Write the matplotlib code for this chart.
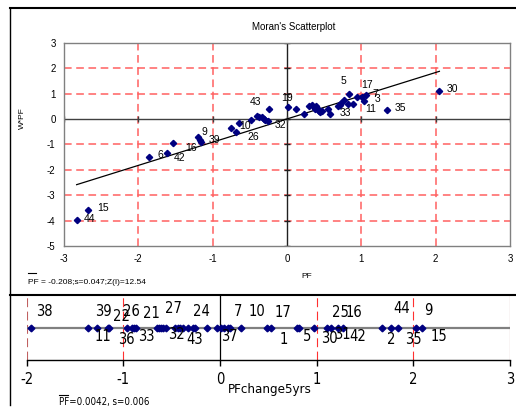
import os
import matplotlib
matplotlib.use('Agg')
import matplotlib.pyplot as plt
from matplotlib.lines import Line2D
from matplotlib import font_manager as fm

# ---------------- data: Moran's scatterplot (top) ----------------
pf = [-2.83, -2.68, -1.85, -1.62, -1.54, -1.20, -1.17, -1.16, -0.76, -0.68,
      -0.65, -0.49, -0.40, -0.37, -0.34, -0.31, -0.29, -0.26, -0.24, 0.02,
      0.12, 0.23, 0.30, 0.33, 0.37, 0.39, 0.40, 0.43, 0.45, 0.47,
      0.55, 0.58, 0.69, 0.71, 0.73, 0.77, 0.82, 0.84, 0.89, 0.94,
      1.01, 1.03, 1.06, 1.35, 2.05]
wpf = [-3.99, -3.57, -1.50, -1.34, -0.94, -0.73, -0.84, -0.91, -0.35, -0.52,
       -0.15, -0.05, 0.12, 0.09, 0.06, 0.00, -0.05, -0.10, 0.41, 0.46,
       0.41, 0.19, 0.52, 0.56, 0.39, 0.50, 0.42, 0.33, 0.28, 0.30,
       0.40, 0.19, 0.52, 0.55, 0.61, 0.76, 0.57, 0.99, 0.58, 0.85,
       0.87, 0.71, 0.95, 0.36, 1.10]
moran_slope = 0.914

top_labels = ["30", "35", "5", "17", "7", "3", "11", "33", "32", "19",
              "43", "10", "26", "9", "39", "16", "6", "42", "15", "44"]
top_lbl_x = [2.23, 1.53, 0.76, 1.07, 1.19, 1.22, 1.12, 0.78, -0.09, 0.0,
             -0.42, -0.57, -0.46, -1.11, -0.97, -1.29, -1.70, -1.44, -2.48, -2.66]
top_lbl_y = [1.17, 0.45, 1.48, 1.33, 0.99, 0.80, 0.41, 0.24, -0.22, 0.84,
             0.66, -0.29, -0.72, -0.51, -0.81, -1.14, -1.43, -1.52, -3.50, -3.94]

top_xticks = [-3, -2, -1, 0, 1, 2, 3]
top_yticks = [-5, -4, -3, -2, -1, 0, 1, 2, 3]
top_stats = "PF = -0.208;s=0.047;Z(I)=12.54"

# ---------------- data: PF change dot plot (bottom) ----------------
chg = [-1.955, -1.362, -1.276, -1.162, -1.145, -0.959, -0.914, -0.889, -0.869, -0.655,
       -0.631, -0.610, -0.586, -0.562, -0.465, -0.438, -0.414, -0.386, -0.334, -0.283,
       -0.259, -0.138, -0.028, 0.007, 0.041, 0.086, 0.103, 0.217, 0.489, 0.524,
       0.793, 0.820, 0.972, 1.110, 1.148, 1.223, 1.269, 1.672, 1.768, 1.838,
       2.024, 2.086]
bot_labels = ["38", "39", "22", "26", "21", "27", "24", "7", "10", "17",
              "25", "16", "44", "9",
              "11", "36", "33", "32", "43", "37", "1", "5", "30", "31",
              "42", "2", "35", "15"]
bot_lbl_x = [-1.817, -1.207, -1.017, -0.913, -0.706, -0.483, -0.189, 0.183, 0.379, 0.655,
             1.241, 1.386, 1.879, 2.154,
             -1.207, -0.965, -0.758, -0.455, -0.265, 0.096, 0.655, 0.903, 1.130, 1.269,
             1.430, 1.776, 1.999, 2.268]
bot_lbl_y = [0.743, 0.743, 0.666, 0.743, 0.718, 0.785, 0.743, 0.743, 0.743, 0.734,
             0.738, 0.738, 0.795, 0.758,
             0.358, 0.308, 0.358, 0.385, 0.308, 0.358, 0.318, 0.358, 0.333, 0.385,
             0.358, 0.318, 0.308, 0.358]
bot_xticks = [-2, -1, 0, 1, 2, 3]
bot_stats = "PF=0.0042, s=0.006"
bot_xlabel = "PFchange5yrs"

# ---------------- styling ----------------
W, H = 516, 416
plt.rcParams['font.family'] = ['Liberation Sans', 'DejaVu Sans']
plt.rcParams['axes.unicode_minus'] = False
navy = '#000080'

# pick a condensed face for the bottom panel if one is installed
_prefs = ['liberationsansnarrow-regular', 'dejavusanscondensed.', 'notosans-condensed.',
          'opensans_condensed-regular', 'opensans-condensed', 'notosans-semicondensed.',
          'dejavusans-condensed.']
_files = {os.path.basename(f.fname).lower(): f.fname for f in fm.fontManager.ttflist}
narrow_fp = None
for p in _prefs:
    hits = [v for k, v in _files.items() if k.startswith(p)]
    if hits:
        narrow_fp = fm.FontProperties(fname=hits[0])
        break
if narrow_fp is None:
    narrow_fp = fm.FontProperties(family='Liberation Sans')
    nscale = 0.8
else:
    nscale = 1.0


def nfp(size):
    f = narrow_fp.copy()
    f.set_size(size * nscale)
    return f


fig = plt.figure(figsize=(W / 100, H / 100), dpi=100)
fig.patch.set_facecolor('white')


def fx(px):
    return px / W


def fy(py):
    return 1 - py / H


# ---- top axes ----
ax = fig.add_axes([fx(64), fy(246), fx(510) - fx(64), fy(42.7) - fy(246)])
ax.set_xlim(-3, 3)
ax.set_ylim(-5, 3)
grid_kw = dict(color='#FF6060', lw=1.1, ls=(0, (5, 3)), zorder=1)
for v in top_xticks:
    if v not in (0, -3, 3):
        ax.axvline(v, **grid_kw)
for v in top_yticks:
    if v not in (0, -5, 3):
        ax.axhline(v, **grid_kw)
ax.axhline(0, color='#404040', lw=1.0, zorder=2)
ax.axvline(0, color='#202020', lw=1.0, zorder=2)
ax.plot([0] * len(top_yticks), top_yticks, ls='none', marker='_', ms=4,
        mew=1, color='#202020', zorder=2)
ax.plot(top_xticks, [0] * len(top_xticks), ls='none', marker='|', ms=4,
        mew=1, color='#404040', zorder=2)
for s in ax.spines.values():
    s.set_color('#808080')
    s.set_linewidth(1.0)
ax.set_xticks(top_xticks)
ax.set_yticks(top_yticks)
ax.tick_params(length=0, labelsize=7, pad=6)
xs = [min(pf), max(pf)]
ax.plot(xs, [moran_slope * x for x in xs], color='black', lw=0.9, zorder=3)
ax.plot(pf, wpf, ls='none', marker='D', ms=3.2, color=navy, mec=navy, zorder=4)
for t, x, y in zip(top_labels, top_lbl_x, top_lbl_y):
    ax.text(x, y, t, ha='center', va='center', fontsize=7.5, zorder=5)

fig.text(fx(294), fy(27), "Moran's Scatterplot", ha='center', va='center', fontsize=7)
fig.text(fx(22), fy(118), "W*PF", ha='center', va='center', rotation=90, fontsize=6)
fig.text(fx(307), fy(277), "PF", ha='center', va='center', fontsize=6)
fig.text(fx(28), fy(282), top_stats, ha='left', va='center', fontsize=6)
fig.add_artist(Line2D([fx(28), fx(35.5)], [fy(273), fy(273)], color='black', lw=0.8))

# ---- bottom axes ----
bx = fig.add_axes([fx(26.7), fy(360), fx(510) - fx(26.7), fy(295) - fy(360)])
bx.set_xlim(-2, 3)
bx.set_ylim(0, 1)
for side in ('top', 'left', 'right'):
    bx.spines[side].set_visible(False)
bx.spines['bottom'].set_color('black')
bx.spines['bottom'].set_linewidth(1.0)
bx.set_yticks([])
bx.set_xticks(bot_xticks)
bx.tick_params(axis='x', direction='out', length=4, width=1, pad=5)
for lab in bx.get_xticklabels():
    lab.set_fontproperties(nfp(10.5))
red_kw = dict(color='#FF3030', lw=0.8, ls=(0, (8, 4)), zorder=1)
for v in bot_xticks:
    if v in (-1, 1, 2):
        bx.axvline(v, **red_kw)
bx.axvline(-2, color='#C06060', lw=0.8, ls=(0, (8, 4)), zorder=1)
bx.axvline(3, color='#A05050', lw=0.8, zorder=1)
bx.axvline(0, color='black', lw=0.9, zorder=1)
bx.axhline(0.5, color='#808080', lw=1.6, zorder=2)
bx.plot(chg, [0.5] * len(chg), ls='none', marker='D', ms=3.4, color=navy, mec=navy, zorder=3)
for t, x, y in zip(bot_labels, bot_lbl_x, bot_lbl_y):
    bx.text(x, y, t, ha='center', va='center', fontproperties=nfp(10.5), zorder=4)

fig.text(fx(270), fy(390), bot_xlabel, ha='center', va='center', fontproperties=nfp(9.5))
fig.text(fx(59), fy(402), bot_stats, ha='left', va='center', fontproperties=nfp(7))
fig.add_artist(Line2D([fx(59), fx(68)], [fy(395), fy(395)], color='black', lw=0.8))

# ---- frame lines ----
fig.add_artist(Line2D([fx(10), 1], [fy(8), fy(8)], color='black', lw=1.5))
fig.add_artist(Line2D([fx(10), fx(10)], [fy(8), fy(405)], color='black', lw=1.0))
fig.add_artist(Line2D([fx(10), 1], [fy(295), fy(295)], color='black', lw=1.5))

fig.savefig('out.png', dpi=100, facecolor='white')
